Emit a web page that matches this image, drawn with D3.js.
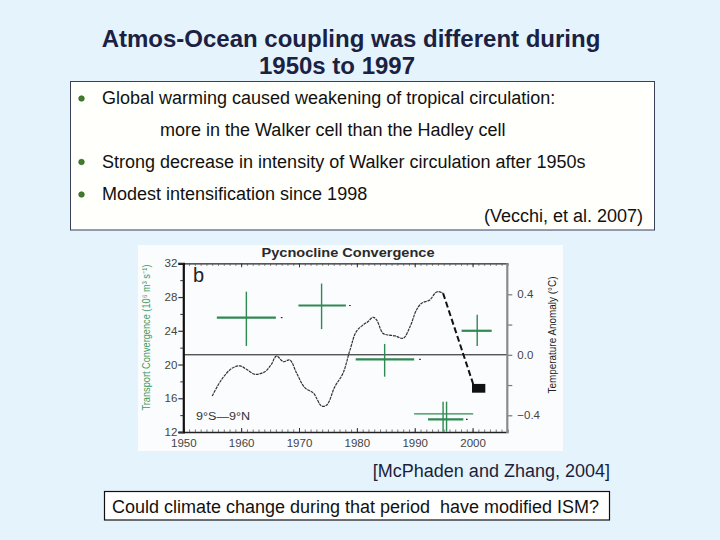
<!DOCTYPE html>
<html><head><meta charset="utf-8">
<script src="https://cdn.jsdelivr.net/npm/d3@7/dist/d3.min.js"></script>
<style>
html,body{margin:0;padding:0;background:#e5f3fc;}
svg{display:block;}
text{font-family:"Liberation Sans",Arial,Helvetica,sans-serif;}
</style></head>
<body>
<svg id="c" width="720" height="540"></svg>
<script>
// ---- data ----
const curveYears  = [1955.0,1956.6,1958.4,1959.8,1961.0,1962.4,1964.1,1965.2,1966.1,1967.3,1968.4,1969.6,1971.0,1972.5,1973.9,1974.8,1976.2,1977.6,1978.8,1979.9,1981.1,1981.9,1982.8,1983.4,1984.5,1985.4,1986.6,1988.0,1989.2,1990.3,1991.2,1992.6,1993.5,1994.0,1994.9];
const curveValues = [16.27,18.2,19.55,19.83,19.4,18.84,19.15,20.0,21.0,20.34,20.54,18.96,17.26,16.6,15.08,15.2,17.38,18.96,21.7,23.9,24.7,25.08,25.6,25.3,23.7,23.5,23.39,23.11,24.5,26.47,27.27,27.66,28.45,28.64,28.45];
const dashYears  = [1994.9, 2000.1];
const dashValues = [28.45, 17.69];
const boxYears  = [1999.9, 2002.2];
const boxValues = [16.66, 17.7];
// green crosses: centre year, year range, value, value range
const crossYear    = [1960.9, 1973.9, 1984.8, 1994.9, 1995.5, 2000.8];
const crossYearMin = [1955.8, 1969.9, 1979.8, 1989.9, 1992.3, 1998.1];
const crossYearMax = [1966.0, 1978.1, 1989.9, 2000.1, 1998.4, 2003.3];
const crossValue   = [25.56, 27.0, 20.62, 14.14, 13.5, 24.0];
const crossValMin  = [22.2, 24.2, 18.56, 12.04, 12.04, 22.2];
const crossValMax  = [28.64, 29.6, 22.44, 15.6, 15.6, 25.9];
const dotYears  = [1967.0, 1978.8, 1990.9, 1999.0];
const dotValues = [25.56, 27.0, 20.62, 13.5];
const convTicks  = [12,16,20,24,28,32];
const convMinor  = [14,18,22,26,30];
const yearTicks  = [1950,1960,1970,1980,1990,2000];
const tempTicks  = [-0.4,0.0,0.4];
const tempMinor  = [-0.2,0.2];

const titleLines = ["Atmos-Ocean coupling was different during","1950s to 1997"];
const bullets = ["Global warming caused weakening of tropical circulation:",
                 "Strong decrease in intensity of Walker circulation after 1950s",
                 "Modest intensification since 1998"];
const subLine = "more in the Walker cell than the Hadley cell";
const cite1 = "(Vecchi, et al. 2007)";
const cite2 = "[McPhaden and Zhang, 2004]";
const question = "Could climate change during that period  have modified ISM?";

// ---- slide ----
const svg = d3.select("#c");
svg.append("rect").attr("width",720).attr("height",540).attr("fill","#e5f3fc");

svg.append("text").attr("x",351).attr("y",47).attr("text-anchor","middle")
  .attr("font-size",24).attr("font-weight","bold").attr("fill","#1b2142").text(titleLines[0]);
svg.append("text").attr("x",337).attr("y",73.5).attr("text-anchor","middle")
  .attr("font-size",24).attr("font-weight","bold").attr("fill","#1b2142").text(titleLines[1]);

svg.append("rect").attr("x",70.5).attr("y",81.5).attr("width",584).attr("height",148.5)
  .attr("fill","#fffffb").attr("stroke","#3a3f58").attr("stroke-width",1);

const bulletY = [104,167.5,200];
bullets.forEach((b,i)=>{
  svg.append("circle").attr("cx",81.5).attr("cy",bulletY[i]-5.5).attr("r",2.8)
    .attr("fill","#3f7d2c").attr("stroke","#2b5a1d").attr("stroke-width",0.6);
  svg.append("text").attr("x",102).attr("y",bulletY[i]).attr("font-size",18)
    .attr("fill","#111").text(b);
});
svg.append("text").attr("x",160).attr("y",135.5).attr("font-size",18).attr("fill","#111").text(subLine);
svg.append("text").attr("x",643).attr("y",222).attr("text-anchor","end").attr("font-size",18).attr("fill","#111").text(cite1);

// ---- figure ----
svg.append("rect").attr("x",138).attr("y",245).attr("width",425).attr("height",206).attr("fill","#fafcfe");

const x = d3.scaleLinear().domain([1950,2006]).range([183.3,507.3]);
const yc = d3.scaleLinear().domain([12,32]).range([432,263.3]);
const yt = d3.scaleLinear().domain([-0.4,0.4]).range([415.3,294.3]);
const g = svg.append("g");

// zero line
g.append("line").attr("x1",x(1950)).attr("x2",x(2006)).attr("y1",yt(0)).attr("y2",yt(0))
  .attr("stroke","#111").attr("stroke-width",1);

// top / bottom axes
const years = d3.range(1950,2006);
const topAx = g.append("g").attr("transform",`translate(0,${yc(32)})`)
  .call(d3.axisTop(x).tickValues(years).tickSize(-2.5).tickFormat(""));
const botAx = g.append("g").attr("transform",`translate(0,${yc(12)})`)
  .call(d3.axisBottom(x).tickValues(years).tickSize(-2.5).tickFormat(""));
[topAx,botAx].forEach(a=>{a.select(".domain").attr("stroke","#222").attr("stroke-width",1.3);
  a.selectAll(".tick line").attr("stroke","#555").attr("stroke-width",0.8);});
const botLab = g.append("g").attr("transform",`translate(0,${yc(12)})`)
  .call(d3.axisBottom(x).tickValues(yearTicks).tickSize(-4).tickPadding(7).tickFormat(d3.format("d")));
botLab.select(".domain").remove();
botLab.selectAll(".tick line").attr("stroke","#333");
botLab.selectAll("text").attr("font-size",11.5).attr("fill","#444").attr("font-family","Liberation Sans, Arial");
const topMaj = g.append("g").attr("transform",`translate(0,${yc(32)})`)
  .call(d3.axisTop(x).tickValues(yearTicks).tickSize(-4).tickFormat(""));
topMaj.select(".domain").remove(); topMaj.selectAll(".tick line").attr("stroke","#333");

// left axis
const leftAx = g.append("g").attr("transform",`translate(${x(1950)},0)`)
  .call(d3.axisLeft(yc).tickValues(convTicks).tickSize(5).tickPadding(1).tickFormat(d3.format("d")));
leftAx.select(".domain").attr("stroke","#111").attr("stroke-width",2.2);
leftAx.selectAll(".tick line").attr("stroke","#333").attr("stroke-width",1.2);
leftAx.selectAll("text").attr("font-size",11.5).attr("fill","#444").attr("font-family","Liberation Sans, Arial");
const leftMin = g.append("g").attr("transform",`translate(${x(1950)},0)`)
  .call(d3.axisLeft(yc).tickValues(convMinor).tickSize(3).tickFormat(""));
leftMin.select(".domain").remove(); leftMin.selectAll(".tick line").attr("stroke","#333");

// right axis
const rightAx = g.append("g").attr("transform",`translate(${x(2006)},0)`)
  .call(d3.axisRight(yt).tickValues(tempTicks).tickSize(5).tickPadding(5).tickFormat(d3.format(".1f")));
rightAx.select(".domain").remove();
rightAx.selectAll(".tick line").attr("stroke","#777").attr("stroke-width",1.2);
rightAx.selectAll("text").attr("font-size",11.5).attr("fill","#444").attr("font-family","Liberation Sans, Arial");
const rightMin = g.append("g").attr("transform",`translate(${x(2006)},0)`)
  .call(d3.axisRight(yt).tickValues(tempMinor).tickSize(5).tickFormat(""));
rightMin.select(".domain").remove(); rightMin.selectAll(".tick line").attr("stroke","#777").attr("stroke-width",1.2);
g.append("line").attr("x1",x(2006)).attr("x2",x(2006)).attr("y1",yc(32)).attr("y2",yc(12)+1)
  .attr("stroke","#8a8a8a").attr("stroke-width",2.2);

// curve
const pts = curveYears.map((d,i)=>[d,curveValues[i]]);
g.append("path").datum(pts)
  .attr("d",d3.line().x(d=>x(d[0])).y(d=>yc(d[1])).curve(d3.curveCatmullRom))
  .attr("fill","none").attr("stroke","#333").attr("stroke-width",1.2).attr("stroke-dasharray","3,0.8");
g.append("path").datum(dashYears.map((d,i)=>[d,dashValues[i]]))
  .attr("d",d3.line().x(d=>x(d[0])).y(d=>yc(d[1])))
  .attr("fill","none").attr("stroke","#111").attr("stroke-width",2).attr("stroke-dasharray","6,3");
g.append("rect").attr("x",x(boxYears[0])).attr("y",yc(boxValues[1]))
  .attr("width",x(boxYears[1])-x(boxYears[0])).attr("height",yc(boxValues[0])-yc(boxValues[1]))
  .attr("fill","#111");

// crosses
const green = "#2e8a50";
crossYear.forEach((cy,i)=>{
  g.append("line").attr("x1",x(crossYearMin[i])).attr("x2",x(crossYearMax[i]))
    .attr("y1",yc(crossValue[i])).attr("y2",yc(crossValue[i]))
    .attr("stroke",green).attr("stroke-width", i===3 ? 1.2 : 2.2);
  g.append("line").attr("x1",x(cy)).attr("x2",x(cy))
    .attr("y1",yc(crossValMin[i])).attr("y2",yc(crossValMax[i]))
    .attr("stroke",green).attr("stroke-width",1.4);
});
dotYears.forEach((d,i)=>{
  g.append("line").attr("x1",x(d)-0.8).attr("x2",x(d)+0.8).attr("y1",yc(dotValues[i])).attr("y2",yc(dotValues[i]))
    .attr("stroke","#222").attr("stroke-width",1.2);
});

// figure labels
svg.append("text").attr("x",348).attr("y",256.5).attr("text-anchor","middle").attr("font-size",12)
  .attr("font-weight","bold").attr("fill","#2a2a2a").attr("textLength",173).attr("lengthAdjust","spacingAndGlyphs")
  .text("Pycnocline Convergence");
svg.append("text").attr("x",193).attr("y",282).attr("font-size",20).attr("fill","#222").text("b");
svg.append("text").attr("x",196).attr("y",419.5).attr("font-size",10).attr("fill","#333")
  .attr("textLength",54).attr("lengthAdjust","spacingAndGlyphs").text("9°S—9°N");
svg.append("text").attr("transform","translate(150,337.5) rotate(-90)").attr("text-anchor","middle")
  .attr("font-size",10.5).attr("fill","#3c9a5e").attr("textLength",146).attr("lengthAdjust","spacingAndGlyphs")
  .text("Transport Convergence (10⁶ m³ s⁻¹)");
svg.append("text").attr("transform","translate(556,335) rotate(-90)").attr("text-anchor","middle")
  .attr("font-size",10.5).attr("fill","#222").attr("textLength",117).attr("lengthAdjust","spacingAndGlyphs")
  .text("Temperature Anomaly (°C)");

// bottom
svg.append("text").attr("x",610).attr("y",477).attr("text-anchor","end").attr("font-size",18).attr("fill","#1b1f3a").text(cite2);
svg.append("rect").attr("x",104.5).attr("y",491.5).attr("width",505).attr("height",28.5)
  .attr("fill","#ffffff").attr("stroke","#111").attr("stroke-width",1.2);
svg.append("text").attr("x",112).attr("y",513).attr("font-size",18).attr("fill","#111")
  .attr("textLength",487).attr("lengthAdjust","spacingAndGlyphs").style("white-space","pre").text(question);
</script>
</body></html>
